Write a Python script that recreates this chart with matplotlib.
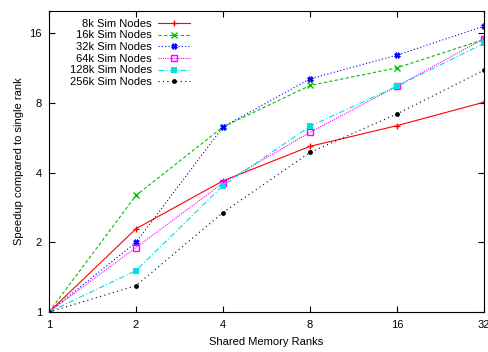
import matplotlib
matplotlib.use("Agg")
import matplotlib.pyplot as plt
from matplotlib.ticker import FixedLocator, NullLocator

plt.rcParams["font.family"] = ["Liberation Sans", "DejaVu Sans"]

ranks = [1, 2, 4, 8, 16, 32]
s8k = [1, 2.29, 3.69, 5.20, 6.39, 8.07]
s16k = [1, 3.19, 6.31, 9.53, 11.36, 15.07]
s32k = [1, 2.00, 6.31, 10.18, 12.89, 17.2]
s64k = [1, 1.90, 3.61, 5.98, 9.46, 15.2]
s128k = [1, 1.51, 3.52, 6.35, 9.46, 14.5]
s256k = [1, 1.30, 2.69, 4.90, 7.18, 11.1]
labels = ["8k Sim Nodes", "16k Sim Nodes", "32k Sim Nodes",
          "64k Sim Nodes", "128k Sim Nodes", "256k Sim Nodes"]
yticks = [1, 2, 4, 8, 16]

fig = plt.figure(figsize=(4.89, 3.52), dpi=100)
ax = fig.add_axes([49 / 489, 40 / 352, 435 / 489, 301 / 352])

styles = [
    dict(color="#ff0000", ls="-", marker="+", ms=5, mew=1),
    dict(color="#00c000", ls=(0, (3, 2)), marker="x", ms=4, mew=1),
    dict(color="#0000ff", ls=(0, (1, 2)), marker="X", ms=4, mew=0.5),
    dict(color="#ff00ff", ls=(0, (1, 1)), marker="s", ms=4, mfc="none", mew=1),
    dict(color="#00e0e0", ls=(0, (5, 2, 1, 2)), marker="s", ms=4, mew=0),
    dict(color="#000000", ls=(0, (1, 3)), marker="o", ms=3.5, mew=0),
]
for ys, lab, st in zip([s8k, s16k, s32k, s64k, s128k, s256k], labels, styles):
    ax.plot(ranks, ys, lw=0.8, label=lab, **st)

ax.set_xscale("log", base=2)
ax.set_yscale("log", base=2)
ax.set_xlim(1, 32)
ax.set_ylim(1, 20)
ax.xaxis.set_major_locator(FixedLocator(ranks))
ax.yaxis.set_major_locator(FixedLocator(yticks))
ax.xaxis.set_minor_locator(NullLocator())
ax.yaxis.set_minor_locator(NullLocator())
ax.set_xticklabels([str(r) for r in ranks])
ax.set_yticklabels([str(t) for t in yticks])
ax.tick_params(direction="in", top=True, right=True, labelsize=8, length=4, pad=5)
ax.tick_params(axis="x", pad=6)
ax.set_xlabel("Shared Memory Ranks", fontsize=8, labelpad=5)
ax.set_ylabel("Speedup compared to single rank", fontsize=8, labelpad=4)

ax.legend(loc="upper left", bbox_to_anchor=(0.03, 1.0), markerfirst=False,
          frameon=False, fontsize=8, handlelength=2.8, labelspacing=0.15,
          handletextpad=0.6, borderaxespad=0.3)

fig.savefig("out.png", dpi=100)
